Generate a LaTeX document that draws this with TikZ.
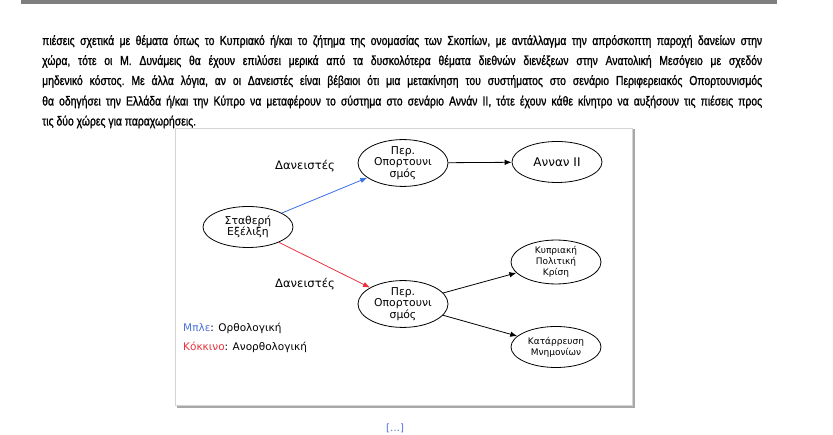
\documentclass[tikz,border=0pt]{standalone}
\usepackage{fontspec}
\setmainfont{DejaVu Sans}
\newfontfamily\bodyfont[FakeStretch=0.8,FakeBold=1.2]{Liberation Sans}
\usetikzlibrary{shapes.geometric,arrows.meta}
\definecolor{barGray}{HTML}{7F7F7F}
\definecolor{frameGray}{HTML}{D4D4D4}
\definecolor{shadowGray}{HTML}{A8A8A8}
\definecolor{arrBlue}{HTML}{3A6FE8}
\definecolor{arrRed}{HTML}{E8323C}
\definecolor{linkBlue}{HTML}{4A72D8}
\begin{document}
\begin{tikzpicture}[x=1pt,y=-1pt,
  ell/.style={ellipse,draw=black,line width=0.8pt,minimum width=90pt,minimum height=41pt,inner sep=0pt,align=center,font=\fontsize{10.8}{11.5}\selectfont},
  ellsmall/.style={ell,font=\fontsize{9}{11}\selectfont},
  conn/.style={line width=0.8pt,-{Latex[length=7pt,width=5.5pt]}},
  lbl/.style={inner sep=0pt,font=\fontsize{11.6}{13}\selectfont},
  legend/.style={inner sep=0pt,anchor=west,font=\fontsize{10.5}{13}\selectfont},
  para/.style={anchor=base west,inner sep=0pt,font=\bodyfont\fontsize{13}{15}\selectfont\frenchspacing}]
\fill[white] (0,0) rectangle (833,435);
\useasboundingbox (0,0) rectangle (833,435);
% top grey bar
\fill[barGray] (21,0) rectangle (777,4);
% paragraph
\node[para] (t1) at (42,45) {\makebox[720pt][s]{πιέσεις σχετικά με θέματα όπως το Κυπριακό ή/και το ζήτημα της ονομασίας των Σκοπίων, με αντάλλαγμα την απρόσκοπτη παροχή δανείων στην}};
\node[para] (t2) at (42,65) {\makebox[720pt][s]{χώρα, τότε οι Μ. Δυνάμεις θα έχουν επιλύσει μερικά από τα δυσκολότερα θέματα διεθνών διενέξεων στην Ανατολική Μεσόγειο με σχεδόν}};
\node[para] (t3) at (42,85) {\makebox[720pt][s]{μηδενικό κόστος. Με άλλα λόγια, αν οι Δανειστές είναι βέβαιοι ότι μια μετακίνηση του συστήματος στο σενάριο Περιφερειακός Οπορτουνισμός}};
\node[para] (t4) at (42,105.5) {\makebox[720pt][s]{θα οδηγήσει την Ελλάδα ή/και την Κύπρο να μεταφέρουν το σύστημα στο σενάριο Αννάν ΙΙ, τότε έχουν κάθε κίνητρο να αυξήσουν τις πιέσεις προς}};
\node[para] (t5) at (42,125.5) {τις δύο χώρες για παραχωρήσεις.};
% figure frame
\draw[shadowGray,line width=1.5pt] (634,129) -- (634,407) -- (177,407);
\draw[frameGray,line width=0.8pt] (175,128) rectangle (632,405);
% nodes
\node[ell] (s) at (248,227) {Σταθερή\\Εξέλιξη};
\node[ell] (p1) at (403,163) {Περ.\\Οπορτουνι\\σμός};
\node[ell,font=\fontsize{12}{13}\selectfont] (a) at (557,162) {Ανναν ΙΙ};
\node[ell] (p2) at (403,304) {Περ.\\Οπορτουνι\\σμός};
\node[ellsmall] (k) at (556,262) {Κυπριακή\\Πολιτική\\Κρίση};
\node[ellsmall] (m) at (556,347) {Κατάρρευση\\Μνημονίων};
% connectors
\draw[conn,arrBlue] (s) -- (p1);
\draw[conn,arrRed] (s) -- (p2);
\draw[conn] (p1) -- (a);
\draw[conn] (p2) -- (k);
\draw[conn] (p2) -- (m);
% labels
\node[lbl] (d1) at (305,166) {Δανειστές};
\node[lbl] (d2) at (305,284) {Δανειστές};
\node[legend] (l1) at (183,328) {\textcolor{linkBlue}{Μπλε}: Ορθολογική};
\node[legend] (l2) at (183,347) {\textcolor{arrRed}{Κόκκινο}: Ανορθολογική};
% caption marker below the figure
\node[anchor=base,inner sep=0pt,text=linkBlue,font=\fontsize{10}{12}\selectfont] (c) at (395,432) {[…]};
\end{tikzpicture}
\end{document}
